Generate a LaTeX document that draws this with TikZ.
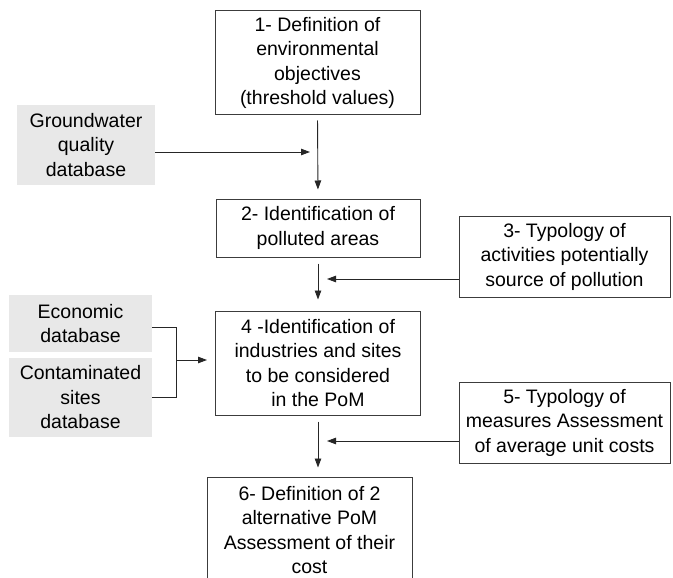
\documentclass[tikz,border=0pt]{standalone}
\usepackage{fontspec}
\setmainfont{Liberation Sans}
\usetikzlibrary{arrows.meta}
\definecolor{boxgray}{RGB}{232,232,232}
\definecolor{linegray}{RGB}{60,60,60}
\begin{document}
\begin{tikzpicture}[x=1pt,y=-1pt,
  every node/.style={font=\fontsize{19.5}{24.5}\selectfont, align=center, inner sep=0pt},
  stepbox/.style={draw=linegray, line width=1pt, fill=white},
  dbbox/.style={fill=boxgray},
  arr/.style={draw=black!85, line width=0.9pt, -{Triangle[length=9pt,width=6.5pt]}},
  ln/.style={draw=black!85, line width=0.9pt}]
\useasboundingbox (0,0) rectangle (673,578);
\clip (0,0) rectangle (673,578);
\fill[white] (0,0) rectangle (673,578);

\node[stepbox, minimum width=205pt, minimum height=104pt] (b1) at (317.5,63) {1- Definition of\\environmental\\objectives\\(threshold values)};
\node[dbbox, minimum width=138pt, minimum height=80pt] (gw) at (86,145) {Groundwater\\quality\\database};
\node[stepbox, minimum width=204pt, minimum height=58pt] (b2) at (318,228) {2- Identification of\\polluted areas};
\node[stepbox, minimum width=211pt, minimum height=81pt] (b3) at (564.5,256.5) {3- Typology of\\activities potentially\\source of pollution};
\node[dbbox, minimum width=143pt, minimum height=57pt] (ec) at (80.5,323.5) {Economic\\database};
\node[dbbox, minimum width=143pt, minimum height=79pt] (ct) at (80.5,397.5) {Contaminated\\sites\\database};
\node[stepbox, minimum width=205pt, minimum height=104pt] (b4) at (318,363) {4 -Identification of\\industries and sites\\to be considered\\in the PoM};
\node[stepbox, minimum width=211pt, minimum height=81pt] (b5) at (564.5,422.5) {5- Typology of\\measures Assessment\\of average unit costs};
\node[stepbox, minimum width=205pt, minimum height=106pt] (b6) at (309.5,530) {6- Definition of 2\\alternative PoM\\Assessment of their\\cost};

\coordinate (j1) at (318,152);
\coordinate (j2) at (318,279);
\coordinate (j3) at (318,441);
\coordinate (k1) at (176,327);
\coordinate (k2) at (176,397);
\coordinate (k3) at (176,360);

\draw[arr, shorten <=5pt, shorten >=9pt] (b1.south) -- (b2.north);
\draw[arr, shorten >=8pt] (gw.east |- j1) -- (j1);
\draw[arr, shorten <=6pt, shorten >=11pt] (b2.south) -- (b4.north);
\draw[arr, shorten >=9pt] (b3.west |- j2) -- (j2);
\draw[ln] (ec.east |- k1) -- (k1) -- (k2) -- (ct.east |- k2);
\draw[arr, shorten >=8pt] (k3) -- (b4.west |- k3);
\draw[arr, shorten <=6pt, shorten >=9pt] (b4.south) -- (b4.south |- b6.north);
\draw[arr, shorten >=9pt] (b5.west |- j3) -- (j3);
\end{tikzpicture}
\end{document}
